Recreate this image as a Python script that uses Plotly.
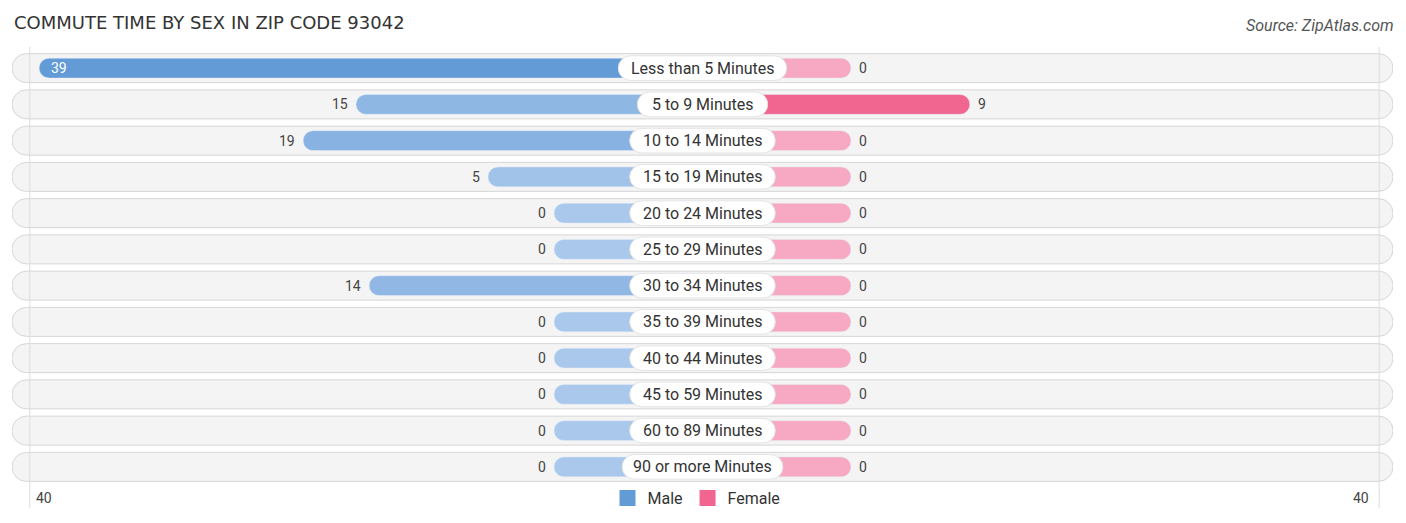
import plotly.graph_objects as go

# commute time by sex, zip 93042
categories = ["Less than 5 Minutes", "5 to 9 Minutes", "10 to 14 Minutes", "15 to 19 Minutes",
              "20 to 24 Minutes", "25 to 29 Minutes", "30 to 34 Minutes", "35 to 39 Minutes",
              "40 to 44 Minutes", "45 to 59 Minutes", "60 to 89 Minutes", "90 or more Minutes"]
male = [39, 15, 19, 5, 0, 0, 14, 0, 0, 0, 0, 0]
female = [0, 9, 0, 0, 0, 0, 0, 0, 0, 0, 0, 0]
axis_max = 40

MALE_DARK = (99, 155, 215)
MALE_LIGHT = (170, 200, 236)
FEMALE_DARK = (240, 102, 145)
FEMALE_LIGHT = (247, 168, 194)

stub = 11.25      # length drawn for a zero value, in value units
span = 52.3       # half width of the plot in value units
# the page body has an 8px margin, so the figure is a bit smaller than the window
W, H = 1390, 507
ML, MR, MT, MB = 4, 5, 42, 30
px_per_unit = (W - ML - MR) / (2 * span)
plot_h = H - MT - MB


def shade(light, dark, t):
    c = [round(l + (d - l) * t) for l, d in zip(light, dark)]
    return "rgb(%d,%d,%d)" % tuple(c)


male_colors = [shade(MALE_LIGHT, MALE_DARK, v / max(male)) for v in male]
female_colors = [shade(FEMALE_LIGHT, FEMALE_DARK, v / max(female)) for v in female]

fig = go.Figure()

# row backgrounds
fig.add_trace(go.Bar(
    y=categories, x=[2 * span] * len(categories), base=-span, orientation="h",
    width=0.8, marker=dict(color="#f4f4f4", line=dict(color="#d6d6d6", width=1), cornerradius="50%"),
    hoverinfo="skip", showlegend=False))

fig.add_trace(go.Bar(
    y=categories, x=[-(stub + v) for v in male], base=0, orientation="h",
    width=0.55, marker=dict(color=male_colors, cornerradius="50%"),
    hoverinfo="skip", showlegend=False))

fig.add_trace(go.Bar(
    y=categories, x=[stub + v for v in female], base=0, orientation="h",
    width=0.55, marker=dict(color=female_colors, cornerradius="50%"),
    hoverinfo="skip", showlegend=False))

# white pills behind the category names
pill_w = [(7.6 * len(c) + 24) / px_per_unit for c in categories]
fig.add_trace(go.Bar(
    y=categories, x=pill_w, base=[-w / 2 for w in pill_w], orientation="h",
    width=0.68, marker=dict(color="white", line=dict(color="#e4e4e4", width=1), cornerradius="50%"),
    hoverinfo="skip", showlegend=False))

# legend entries
fig.add_trace(go.Scatter(x=[None], y=[None], mode="markers", name="Male",
                         marker=dict(symbol="square", size=16, color="rgb(99,155,215)")))
fig.add_trace(go.Scatter(x=[None], y=[None], mode="markers", name="Female",
                         marker=dict(symbol="square", size=16, color="rgb(240,102,145)")))

ann = []
for c, m, f in zip(categories, male, female):
    ann.append(dict(x=0, y=c, text=c, showarrow=False, font=dict(size=16, color="#333")))
    if m > 30:
        ann.append(dict(x=-(stub + m), y=c, text=str(m), showarrow=False, xanchor="left",
                        xshift=10, font=dict(size=14, color="white")))
    else:
        ann.append(dict(x=-(stub + m), y=c, text=str(m), showarrow=False, xanchor="right",
                        xshift=-6, font=dict(size=14, color="#444")))
    ann.append(dict(x=stub + f, y=c, text=str(f), showarrow=False, xanchor="left",
                    xshift=6, font=dict(size=14, color="#444")))

bottom_y = -13 / plot_h
ann.append(dict(x=-(stub + axis_max), y=bottom_y, yref="paper", yanchor="middle", text=str(axis_max),
                showarrow=False, xanchor="left", xshift=8, font=dict(size=14, color="#444")))
ann.append(dict(x=stub + axis_max, y=bottom_y, yref="paper", yanchor="middle", text=str(axis_max),
                showarrow=False, xanchor="right", xshift=-8, font=dict(size=14, color="#444")))
ann.append(dict(x=0, y=1.0, xref="paper", yref="paper", xshift=0, yshift=28,
                text="COMMUTE TIME BY SEX IN ZIP CODE 93042", showarrow=False,
                xanchor="left", yanchor="middle", font=dict(family="DejaVu Sans", size=18, color="#333")))
ann.append(dict(x=1, y=1.0, xref="paper", yref="paper", xshift=3, yshift=25,
                text="<i>Source: ZipAtlas.com</i>", showarrow=False,
                xanchor="right", yanchor="middle", font=dict(size=16, color="#555")))

shapes = []
for xv in (-(stub + axis_max) + 0.3, stub + axis_max):
    shapes.append(dict(type="line", x0=xv, x1=xv, y0=-23 / plot_h, y1=1 + 3 / plot_h, yref="paper",
                       line=dict(color="#dcdcdc", width=1), layer="above"))

fig.update_layout(
    width=W, height=H,
    margin=dict(l=ML, r=MR, t=MT, b=MB, autoexpand=False),
    barmode="overlay",
    paper_bgcolor="white", plot_bgcolor="white",
    font=dict(family="Roboto", color="#333"),
    xaxis=dict(range=[-span, span], showgrid=False, zeroline=False, showticklabels=False, fixedrange=True),
    yaxis=dict(categoryorder="array", categoryarray=categories, range=[len(categories) - 0.5, -0.5],
               showgrid=False, zeroline=False, showticklabels=False, fixedrange=True),
    legend=dict(orientation="h", x=0.5 - 6 / (W - ML - MR), xanchor="center", y=bottom_y, yanchor="middle",
                font=dict(size=16, color="#333"), itemwidth=30, bgcolor="rgba(0,0,0,0)"),
    annotations=ann,
    shapes=shapes,
    hovermode=False,
)

fig.write_html("out.html")
